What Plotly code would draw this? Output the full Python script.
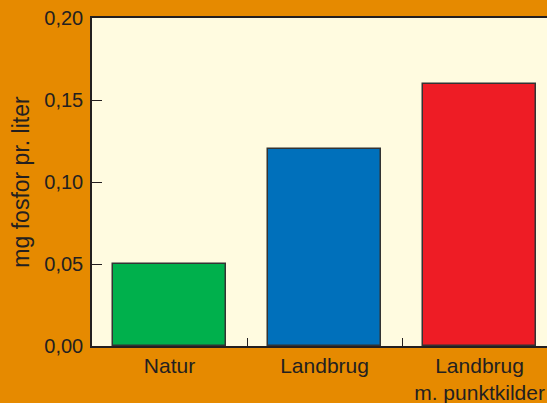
import plotly.graph_objects as go

categories = ["Natur", "Landbrug", "Landbrug<br>m. punktkilder"]
values = [0.05, 0.12, 0.16]
colors = ["#00B04C", "#0070BB", "#EE1C25"]
y_ticks = [0.00, 0.05, 0.10, 0.15, 0.20]
x_pos = [0, 1, 2]
divider_ticks = [0.5, 1.5]

fig = go.Figure()
fig.add_trace(go.Bar(
    x=x_pos, y=values, width=0.73,
    marker=dict(color=colors, line=dict(color="#333333", width=1.5)),
    xaxis="x", yaxis="y", showlegend=False,
))
# invisible trace to activate the tick-only overlay axis
fig.add_trace(go.Scatter(x=[0.5], y=[0], mode="markers", marker=dict(opacity=0),
                         xaxis="x2", yaxis="y", showlegend=False, hoverinfo="skip"))

family = "Liberation Sans, Arial, sans-serif"
ink = "#231F20"

fig.update_layout(
    width=547, height=403,
    margin=dict(l=92, r=0, t=18, b=57),
    paper_bgcolor="#E68A00",
    plot_bgcolor="#FFFBE0",
    font=dict(family=family, size=21, color=ink),
    separators=",.",
    xaxis=dict(range=[-0.5, 2.435], tickvals=x_pos, ticktext=categories,
               ticks="", showgrid=False, zeroline=False,
               tickfont=dict(size=21),
               showline=True, mirror=True, linecolor=ink, linewidth=1.5),
    xaxis2=dict(range=[-0.5, 2.435], overlaying="x", anchor="y", side="bottom",
                tickvals=divider_ticks, ticks="inside", ticklen=8, tickwidth=1,
                tickcolor=ink, showticklabels=False, showgrid=False,
                zeroline=False, showline=False),
    yaxis=dict(range=[0, 0.2], tickvals=y_ticks, tickformat=".2f",
               ticks="inside", ticklen=10, tickwidth=1.2, tickcolor=ink,
               tickfont=dict(size=20), ticklabelstandoff=3,
               showgrid=False, zeroline=False,
               showline=True, linecolor=ink, linewidth=1.5,
               title=dict(text="mg fosfor pr. liter",
                          font=dict(family=family, size=23, color=ink), standoff=8)),
    bargap=0,
)

fig.write_html("out.html", config={"displayModeBar": False},
               post_script="document.body.style.margin='0';document.body.style.overflow='hidden';")
